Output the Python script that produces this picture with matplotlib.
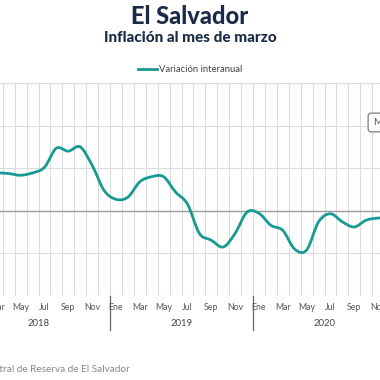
import matplotlib
matplotlib.use("Agg")
import matplotlib.pyplot as plt
import numpy as np
from matplotlib.path import Path
from matplotlib.patches import PathPatch

# ---------------- data ----------------
years = ["2018", "2019", "2020"]
month_labels = ["Ene", "Feb", "Mar", "Abr", "May", "Jun", "Jul", "Ago", "Sep", "Oct", "Nov", "Dic"]
variacion = [0.85, 0.88, 0.89, 0.875, 0.835, 0.89, 1.02, 1.47, 1.40, 1.50, 1.07, 0.48,
             0.27, 0.32, 0.68, 0.80, 0.80, 0.44, 0.16, -0.53, -0.69, -0.85, -0.53, -0.03,
             -0.06, -0.34, -0.46, -0.90, -0.92, -0.26, -0.07, -0.26, -0.38, -0.22, -0.17, -0.16]
y_ticks = [-2, -1, 0, 1, 2, 3]
series_name = "Variación interanual"
title = "El Salvador"
subtitle = "Inflación al mes de marzo"
source = "Fuente: Banco Central de Reserva de El Salvador"

TEAL = "#179a93"
NAVY = "#1b2b47"
FONT = ["Lato", "DejaVu Sans"]
plt.rcParams["font.family"] = FONT

W = H = 380
fig = plt.figure(figsize=(3.8, 3.8), dpi=100)

def fx(px):
    return px / W

def fy(py):
    return 1 - py / H

n = len(variacion)
x0_px, x1_px = -33, 396
top_px, bot_px = 83, 296
ax = fig.add_axes([fx(x0_px), fy(bot_px), fx(x1_px - x0_px), (bot_px - top_px) / H])
ax.set_xlim(0, n)
ax.set_ylim(y_ticks[0], y_ticks[-1])
hpx = bot_px - top_px

# grid
for b in range(n + 1):
    ax.axvline(b, color="#dcdcdc", lw=0.8, zorder=1)
for t in y_ticks:
    if t == 0:
        ax.axhline(t, color="#9a9a9a", lw=1.0, zorder=2)
    else:
        ax.axhline(t, color="#dcdcdc", lw=0.8, zorder=1)

# smooth line (Catmull-Rom -> Bezier)
xs = np.arange(n) + 0.5
ys = np.array(variacion)
verts = [(xs[0], ys[0])]
codes = [Path.MOVETO]
for i in range(n - 1):
    p0 = np.array([xs[max(i - 1, 0)], ys[max(i - 1, 0)]])
    p1 = np.array([xs[i], ys[i]])
    p2 = np.array([xs[i + 1], ys[i + 1]])
    p3 = np.array([xs[min(i + 2, n - 1)], ys[min(i + 2, n - 1)]])
    c1 = p1 + (p2 - p0) / 6
    c2 = p2 - (p3 - p1) / 6
    verts += [tuple(c1), tuple(c2), tuple(p2)]
    codes += [Path.CURVE4] * 3
ax.add_patch(PathPatch(Path(verts, codes), fill=False, edgecolor=TEAL, lw=2.0,
                       capstyle="round", joinstyle="round", zorder=3))

for s in ax.spines.values():
    s.set_visible(False)
ax.set_xticks([])
ax.set_yticks([])

# month labels
for i in range(n):
    if i % 2 == 0:
        ax.text(i + 0.5, -12 / hpx, month_labels[i % 12], transform=ax.get_xaxis_transform(),
                ha="center", va="center", fontsize=6.3, color="#555555")
# year labels and separators
for k, yr in enumerate(years):
    ax.text(12 * k + 6, -28 / hpx, yr, transform=ax.get_xaxis_transform(),
            ha="center", va="center", fontsize=6.8, color="#444444")
    if k > 0:
        ax.plot([12 * k, 12 * k], [0, -34 / hpx], transform=ax.get_xaxis_transform(),
                color="#666666", lw=0.9, clip_on=False)

# titles
fig.text(0.5, fy(16), title, ha="center", va="center", fontsize=17, fontweight="black", color=NAVY)
fig.text(0.5, fy(38.5), subtitle, ha="center", va="center", fontsize=11, fontweight="black", color=NAVY)

# legend
fig.add_artist(plt.Line2D([fx(138), fx(157)], [fy(69), fy(69)], color=TEAL, lw=2.0))
fig.text(fx(159), fy(69), series_name, ha="left", va="center", fontsize=6.8, color="#444444")

# partial button on right
fig.text(fx(373), fy(122.5), "Menú", ha="left", va="center", fontsize=7, color="#555555",
         bbox=dict(boxstyle="round,pad=0.5,rounding_size=0.35", fc="white", ec="#888888", lw=1.0))

# source
fig.text(fx(130), fy(370), source, ha="right", va="center", fontsize=7.2, color="#888888")

fig.savefig("out.png", dpi=100)
